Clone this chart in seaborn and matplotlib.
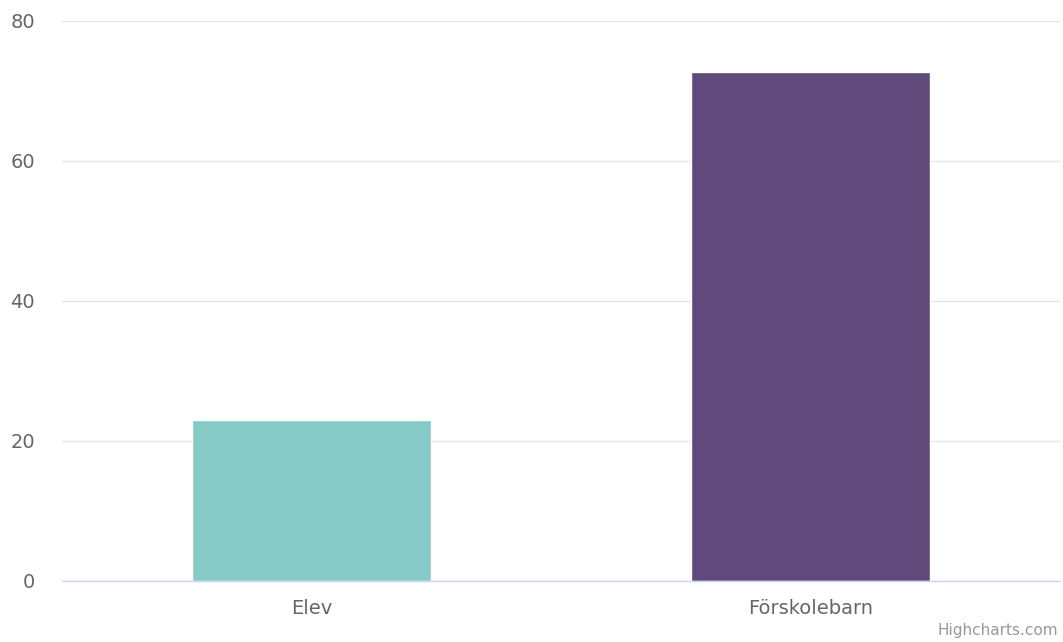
import pandas as pd
import matplotlib.pyplot as plt
import seaborn as sns

# Data
kategorier = ['Elev', 'Förskolebarn']
varden = [23, 72.7]
farger = ['#86CBC7', '#604A7B']

df = pd.DataFrame({'Kategori': kategorier, 'Antal': varden})

sns.set_style('white')
plt.rcParams['font.family'] = ['DejaVu Sans']

fig = plt.figure(figsize=(10.63, 6.42), dpi=100)
ax = fig.add_axes([62 / 1063, 61 / 642, 998 / 1063, 560 / 642])

sns.barplot(data=df, x='Kategori', y='Antal', hue='Kategori', palette=farger,
            width=0.48, legend=False, ax=ax, saturation=1)

ax.set_ylim(0, 80)
ax.set_xlim(-0.5, 1.5)
ax.set_yticks([0, 20, 40, 60, 80])
ax.yaxis.grid(True, color='#E6E6E6', linewidth=1)
ax.set_axisbelow(True)
for s in ['top', 'right', 'left']:
    ax.spines[s].set_visible(False)
ax.spines['bottom'].set_color('#CCD6EB')
ax.spines['bottom'].set_linewidth(1)
ax.tick_params(axis='both', length=0, labelsize=14, colors='#666666')
ax.tick_params(axis='y', pad=19.5)
ax.tick_params(axis='x', pad=13)
ax.set_xlabel('')
ax.set_ylabel('')

fig.text(1058 / 1063, 4 / 642, 'Highcharts.com', ha='right', va='bottom',
         fontsize=11, color='#999999')

fig.savefig('out.png', dpi=100)
